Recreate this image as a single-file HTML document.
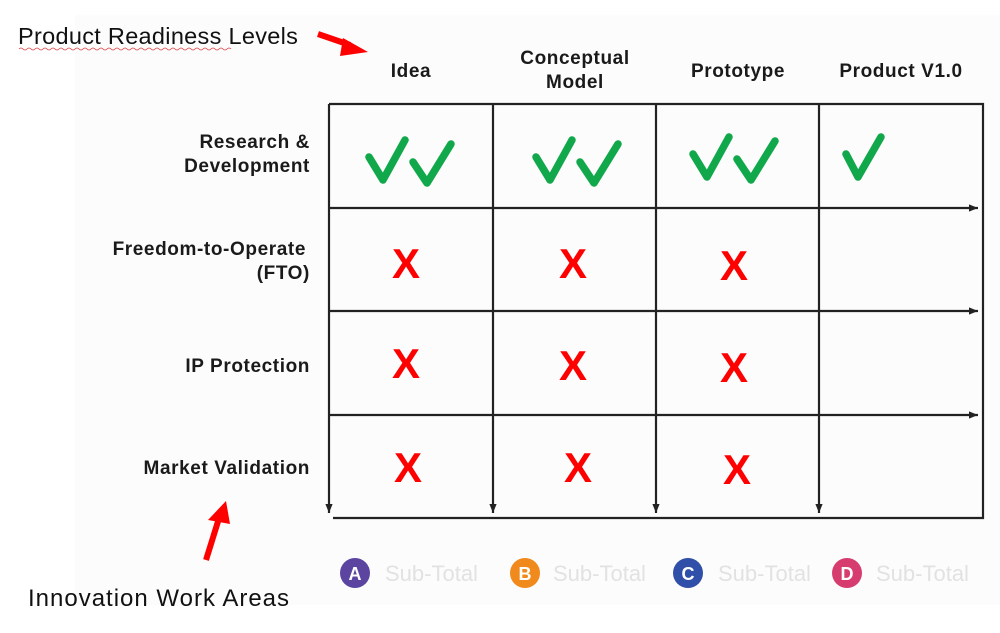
<!DOCTYPE html>
<html><head><meta charset="utf-8"><style>
body{margin:0;background:#fff;}
svg{display:block}
.h{font-family:"Liberation Sans",sans-serif;font-weight:bold;font-size:19px;letter-spacing:0.6px;fill:#1a1a1a}
.x{font-family:"Liberation Sans",sans-serif;font-weight:bold;font-size:42px;fill:#f00;text-anchor:middle}
.c{fill:none;stroke:#10a84a;stroke-width:7.5;stroke-linecap:round;stroke-linejoin:round}
.st{font-family:"Liberation Sans",sans-serif;font-size:22px;fill:#e2e2e2}
.lt{font-family:"Liberation Sans",sans-serif;font-weight:bold;font-size:18px;fill:#fff;text-anchor:middle}
</style></head><body>
<svg width="1000" height="633" viewBox="0 0 1000 633">
<defs>
<marker id="a" viewBox="0 0 10 10" refX="10" refY="5" markerWidth="13" markerHeight="9" markerUnits="userSpaceOnUse" orient="auto"><path d="M0,1 L10,5 L0,9z" fill="#222"/></marker>
</defs>
<rect x="75" y="15" width="925" height="590" fill="#fcfcfc"/>
<text x="18" y="44" font-family="Liberation Sans,sans-serif" font-size="23.5" letter-spacing="0.3" fill="#111">Product Readiness Levels</text>
<path d="M19,49 q2,-2 4,0 t4,0 t4,0 t4,0 t4,0 t4,0 t4,0 t4,0 t4,0 t4,0 t4,0 t4,0 t4,0 t4,0 t4,0 t4,0 t4,0 t4,0 t4,0 t4,0 t4,0 t4,0 t4,0 t4,0 t4,0 t4,0 t4,0 t4,0 t4,0 t4,0 t4,0 t4,0 t4,0 t4,0 t4,0 t4,0 t4,0 t4,0 t4,0 t4,0 t4,0 t4,0 t4,0 t4,0 t4,0 t4,0 t4,0 t4,0 t4,0 t4,0 t4,0 t4,0 t4,0" fill="none" stroke="#e04040" stroke-width="0.8"/>
<path d="M318,34 L350,45" stroke="#f00" stroke-width="6"/>
<path d="M343,38 L368,52 L340,56z" fill="#f00"/>
<text x="28" y="606" font-family="Liberation Sans,sans-serif" font-size="24" letter-spacing="1" fill="#111">Innovation Work Areas</text>
<path d="M206,560 L220,515" stroke="#f00" stroke-width="6"/>
<path d="M208,520 L226,501 L230,524z" fill="#f00"/>
<g class="h" text-anchor="middle">
<text x="411" y="77">Idea</text>
<text x="575" y="64">Conceptual</text><text x="575" y="88">Model</text>
<text x="738" y="77">Prototype</text>
<text x="901" y="77">Product V1.0</text>
</g>
<g class="h" text-anchor="end">
<text x="310" y="148">Research &amp;</text><text x="310" y="172">Development</text>
<text x="306" y="255">Freedom-to-Operate</text><text x="310" y="279">(FTO)</text>
<text x="310" y="372">IP Protection</text>
<text x="310" y="474">Market Validation</text>
</g>
<g stroke="#222" stroke-width="2.2" fill="none">
<path d="M329,104 H983 V518 H333"/>
<line x1="329" y1="104" x2="329" y2="513" marker-end="url(#a)"/>
<line x1="493" y1="104" x2="493" y2="513" marker-end="url(#a)"/>
<line x1="656" y1="104" x2="656" y2="513" marker-end="url(#a)"/>
<line x1="819" y1="104" x2="819" y2="513" marker-end="url(#a)"/>
<line x1="329" y1="208" x2="978" y2="208" marker-end="url(#a)"/>
<line x1="329" y1="311" x2="978" y2="311" marker-end="url(#a)"/>
<line x1="329" y1="415" x2="978" y2="415" marker-end="url(#a)"/>
</g>
<g class="c">
<path d="M369,157 L383,180 L405,140"/><path d="M413,162 L427,183 L451,144"/>
<path d="M536,157 L550,180 L572,140"/><path d="M580,162 L594,183 L618,144"/>
<path d="M693,154 L707,177 L729,137"/><path d="M737,159 L751,180 L775,141"/>
<path d="M846,154 L858,177 L881,137"/>
</g>
<g class="x">
<text x="406" y="278">X</text><text x="573" y="278">X</text><text x="734" y="280">X</text>
<text x="406" y="378">X</text><text x="573" y="380">X</text><text x="734" y="382">X</text>
<text x="408" y="482">X</text><text x="578" y="482">X</text><text x="737" y="484">X</text>
</g>
<circle cx="355" cy="573" r="15" fill="#5b45a0"/><text class="lt" x="355" y="580">A</text>
<text class="st" x="385" y="581">Sub-Total</text>
<circle cx="525" cy="573" r="15" fill="#f08a1c"/><text class="lt" x="525" y="580">B</text>
<text class="st" x="553" y="581">Sub-Total</text>
<circle cx="688" cy="573" r="15" fill="#2f4fa8"/><text class="lt" x="688" y="580">C</text>
<text class="st" x="718" y="581">Sub-Total</text>
<circle cx="847" cy="573" r="15" fill="#d63c6e"/><text class="lt" x="847" y="580">D</text>
<text class="st" x="876" y="581">Sub-Total</text>
</svg>
</body></html>
